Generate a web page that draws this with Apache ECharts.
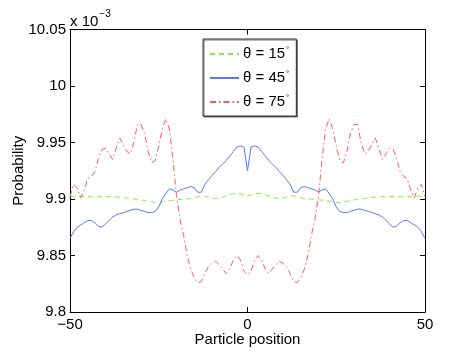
<!DOCTYPE html>
<html>
<head>
<meta charset="utf-8">
<script src="https://cdn.jsdelivr.net/npm/echarts@6/dist/echarts.min.js"></script>
<style>
  html, body { margin: 0; padding: 0; background: #fff; }
  #chart { width: 469px; height: 352px; }
</style>
</head>
<body>
<div id="chart"></div>
<script>
// particle positions -50 .. 50
var positions = [];
for (var p = -50; p <= 50; p++) positions.push(p);

// probabilities (x 10^-3)
var theta15 = [
  9.9025, 9.9025, 9.9026, 9.9024, 9.9022, 9.9020, 9.9019, 9.9020, 9.9021, 9.9022,
  9.9022, 9.9021, 9.9020, 9.9018, 9.9016, 9.9013, 9.9009, 9.9005, 9.9001, 9.8996,
  9.8991, 9.8987, 9.8980, 9.8975, 9.8970, 9.8970, 9.8975, 9.8981, 9.8985, 9.8989,
  9.8993, 9.8996, 9.8998, 9.9000, 9.9004, 9.9012, 9.9022, 9.9028, 9.9025, 9.9016,
  9.9008, 9.9005, 9.9008, 9.9016, 9.9027, 9.9038, 9.9046, 9.9050, 9.9046, 9.9035,
  9.9027,
  9.9035, 9.9046, 9.9050, 9.9046, 9.9038, 9.9027, 9.9016, 9.9008, 9.9005, 9.9008,
  9.9016, 9.9025, 9.9028, 9.9022, 9.9012, 9.9004, 9.9000, 9.8998, 9.8996, 9.8993,
  9.8989, 9.8985, 9.8981, 9.8975, 9.8970, 9.8970, 9.8975, 9.8980, 9.8987, 9.8991,
  9.8996, 9.9001, 9.9005, 9.9009, 9.9013, 9.9016, 9.9018, 9.9020, 9.9021, 9.9022,
  9.9022, 9.9021, 9.9020, 9.9019, 9.9020, 9.9022, 9.9024, 9.9026, 9.9025, 9.9025
];
var theta45 = [
  9.865, 9.871, 9.875, 9.877, 9.879, 9.881, 9.881, 9.879, 9.876, 9.875,
  9.878, 9.881, 9.884, 9.886, 9.887, 9.888, 9.889, 9.890, 9.891, 9.891,
  9.890, 9.889, 9.888, 9.888, 9.889, 9.893, 9.900, 9.905, 9.909, 9.908,
  9.906, 9.908, 9.909, 9.910, 9.911, 9.910, 9.906, 9.906, 9.913, 9.917,
  9.921, 9.924, 9.928, 9.931, 9.934, 9.938, 9.942, 9.946, 9.947, 9.946,
  9.925,
  9.946, 9.947, 9.946, 9.942, 9.938, 9.934, 9.931, 9.928, 9.924, 9.921,
  9.917, 9.913, 9.906, 9.906, 9.910, 9.911, 9.910, 9.909, 9.908, 9.906,
  9.908, 9.909, 9.905, 9.900, 9.893, 9.889, 9.888, 9.888, 9.889, 9.890,
  9.891, 9.891, 9.890, 9.889, 9.888, 9.887, 9.886, 9.884, 9.881, 9.878,
  9.875, 9.876, 9.879, 9.881, 9.881, 9.879, 9.877, 9.875, 9.871, 9.865
];
var theta75 = [
  9.902, 9.913, 9.910, 9.901, 9.908, 9.918, 9.920, 9.924, 9.936, 9.944,
  9.945, 9.940, 9.935, 9.945, 9.954, 9.948, 9.942, 9.940, 9.950, 9.966,
  9.966, 9.958, 9.942, 9.932, 9.934, 9.947, 9.962, 9.971, 9.962, 9.935,
  9.903, 9.882, 9.868, 9.850, 9.838, 9.830, 9.826, 9.827, 9.834, 9.840,
  9.843, 9.845, 9.842, 9.838, 9.834, 9.838, 9.846, 9.850, 9.846, 9.836,
  9.833,
  9.836, 9.846, 9.850, 9.846, 9.838, 9.834, 9.838, 9.842, 9.845, 9.843,
  9.840, 9.834, 9.827, 9.826, 9.830, 9.838, 9.850, 9.868, 9.882, 9.903,
  9.935, 9.962, 9.971, 9.962, 9.947, 9.934, 9.932, 9.942, 9.958, 9.966,
  9.966, 9.950, 9.940, 9.942, 9.948, 9.954, 9.945, 9.935, 9.940, 9.945,
  9.944, 9.936, 9.924, 9.920, 9.918, 9.908, 9.901, 9.910, 9.913, 9.902
];
var seriesNames = ['\u03b8 = 15', '\u03b8 = 45', '\u03b8 = 75'];

function pairs(ys) {
  return positions.map(function (x, i) { return [x, ys[i]]; });
}

var font = 'Liberation Sans, Arial, Helvetica, sans-serif';
var chart = echarts.init(document.getElementById('chart'), null, { renderer: 'canvas' });

var boxAxis = {
  axisLine: { show: true, onZero: false, lineStyle: { color: '#000', width: 1 } },
  axisTick: { show: true, inside: true, length: 5, lineStyle: { color: '#000' } },
  splitLine: { show: false }
};

var option = {
  animation: false,
  backgroundColor: '#fff',
  textStyle: { fontFamily: font },
  grid: { left: 70, right: 44, top: 29.5, bottom: 40, outerBoundsMode: 'none', containLabel: false },
  graphic: [{
    type: 'text',
    left: 70,
    top: 9,
    style: {
      text: '{a|x 10}{b|\u22123}',
      rich: {
        a: { fontFamily: font, fontSize: 15, fill: '#000', lineHeight: 20, verticalAlign: 'bottom' },
        b: { fontFamily: font, fontSize: 10, fill: '#000', lineHeight: 20, verticalAlign: 'top', padding: [0, 0, 0, 1] }
      }
    }
  }],
  legend: {
    left: 203,
    top: 39,
    orient: 'vertical',
    data: seriesNames,
    backgroundColor: '#fff',
    borderColor: '#333',
    borderWidth: 1,
    borderRadius: 0,
    shadowColor: 'rgba(0,0,0,0.55)',
    shadowOffsetX: 1,
    shadowOffsetY: 1,
    shadowBlur: 0,
    padding: [7, 7, 6, 6],
    itemWidth: 29,
    itemHeight: 14,
    itemGap: 8,
    selectedMode: false,
    itemStyle: { opacity: 0 },
    formatter: function (name) { return '{a|' + name + '}{s|\u00b0}'; },
    textStyle: {
      fontFamily: font,
      color: '#000',
      padding: [0, 0, 0, -1],
      rich: {
        a: { fontFamily: font, fontSize: 15, color: '#000', lineHeight: 16 },
        s: { fontFamily: font, fontSize: 8, color: '#000', lineHeight: 16, verticalAlign: 'top', padding: [0, 0, 8, 1] }
      }
    }
  },
  xAxis: [
    Object.assign({
      type: 'value', position: 'bottom', min: -50, max: 50, interval: 50,
      name: 'Particle position', nameLocation: 'middle', nameGap: 20, nameMoveOverlap: false,
      nameTextStyle: { fontFamily: font, fontSize: 15, color: '#000' },
      axisLabel: {
        fontFamily: font, fontSize: 15, color: '#000', margin: 5,
        formatter: function (v) { return String(v).replace('-', '\u2212'); }
      }
    }, boxAxis),
    Object.assign({
      type: 'value', position: 'top', min: -50, max: 50, interval: 50,
      axisLabel: { show: false }
    }, boxAxis)
  ],
  yAxis: [
    Object.assign({
      type: 'value', position: 'left', min: 9.8, max: 10.05, interval: 0.05,
      name: 'Probability', nameLocation: 'middle', nameGap: 44, nameRotate: 90, nameMoveOverlap: false,
      nameTextStyle: { fontFamily: font, fontSize: 15, color: '#000' },
      axisLabel: {
        fontFamily: font, fontSize: 15, color: '#000', margin: 4,
        formatter: function (v) { return String(+v.toFixed(2)); }
      }
    }, boxAxis),
    Object.assign({
      type: 'value', position: 'right', min: 9.8, max: 10.05, interval: 0.05,
      axisLabel: { show: false }
    }, boxAxis)
  ],
  series: [
    {
      name: seriesNames[0], type: 'line', data: pairs(theta15),
      showSymbol: false, symbol: 'none', smooth: false,
      lineStyle: { color: '#7cf23c', width: 1, type: [5, 4] },
      itemStyle: { color: '#7cf23c' }
    },
    {
      name: seriesNames[1], type: 'line', data: pairs(theta45),
      showSymbol: false, symbol: 'none', smooth: false,
      lineStyle: { color: '#5a78ff', width: 1, type: 'solid' },
      itemStyle: { color: '#5a78ff' }
    },
    {
      name: seriesNames[2], type: 'line', data: pairs(theta75),
      showSymbol: false, symbol: 'none', smooth: false,
      lineStyle: { color: '#ff5a5a', width: 1, type: [6, 3, 1.5, 3] },
      itemStyle: { color: '#ff5a5a' }
    }
  ]
};

chart.setOption(option);
</script>
</body>
</html>
